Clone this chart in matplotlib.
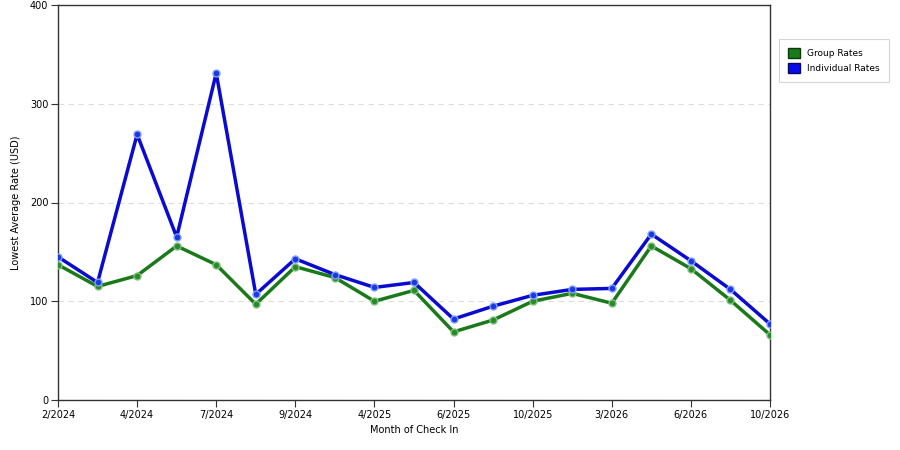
import matplotlib
matplotlib.use("Agg")
import matplotlib.pyplot as plt
from matplotlib.patches import Patch

# Données
mois = ["2/2024", "3/2024", "4/2024", "5/2024", "7/2024", "8/2024", "9/2024",
        "10/2024", "4/2025", "5/2025", "6/2025", "8/2025", "10/2025", "12/2025",
        "3/2026", "4/2026", "6/2026", "8/2026", "10/2026"]
tick_labels = ["2/2024", "4/2024", "7/2024", "9/2024", "4/2025",
               "6/2025", "10/2025", "3/2026", "6/2026", "10/2026"]

group_rates = [137, 115, 126, 156, 137, 97, 135, 124, 100, 111,
               69, 81, 100, 108, 98, 156, 133, 101, 66]
individual_rates = [145, 119, 269, 165, 331, 107, 143, 127, 114, 119,
                    82, 95, 106, 112, 113, 168, 141, 112, 77]

x = list(range(len(mois)))

fig = plt.figure(figsize=(9, 4.5), dpi=100)
ax = fig.add_axes([58/900, 50/450, 712/900, 395/450])

ax.plot(x, group_rates, color="#1a7a1a", lw=2.5, marker="o", markersize=5,
        markerfacecolor="#2a8a2a", markeredgecolor="#7fbf7f", markeredgewidth=1, zorder=3)
ax.plot(x, individual_rates, color="#0a0ad0", lw=2.5, marker="o", markersize=5,
        markerfacecolor="#1a3ae0", markeredgecolor="#7f9fff", markeredgewidth=1, zorder=4)

ax.set_xlim(0, len(mois) - 1)
ax.set_ylim(0, 400)
ax.set_xticks(x[::2])
ax.set_xticklabels(tick_labels)
ax.set_yticks([0, 100, 200, 300, 400])
ax.tick_params(labelsize=7, length=5, color="#333333", pad=2)

for s in ax.spines.values():
    s.set_color("#333333")
    s.set_linewidth(1)

ax.grid(axis="y", color="#dddddd", linestyle=(0, (5, 4)), lw=0.8)
ax.set_axisbelow(True)

ax.set_xlabel("Month of Check In", fontsize=7, labelpad=4)
ax.set_ylabel("Lowest Average Rate (USD)", fontsize=7, labelpad=6)

handles = [Patch(facecolor="#1a7a1a", edgecolor="#0a3a0a", label="Group Rates"),
           Patch(facecolor="#0a0aee", edgecolor="#0a0a5a", label="Individual Rates")]
leg = fig.legend(handles=handles, loc="upper left", bbox_to_anchor=(779/900, 1 - 39/450),
                 fontsize=6.5, frameon=True, fancybox=False, handlelength=1.3,
                 handleheight=1.3, handletextpad=0.8, borderpad=1.0, labelspacing=0.6,
                 borderaxespad=0)
leg.get_frame().set_edgecolor("#cccccc")
leg.get_frame().set_linewidth(0.8)

plt.savefig("out.png", dpi=100)
